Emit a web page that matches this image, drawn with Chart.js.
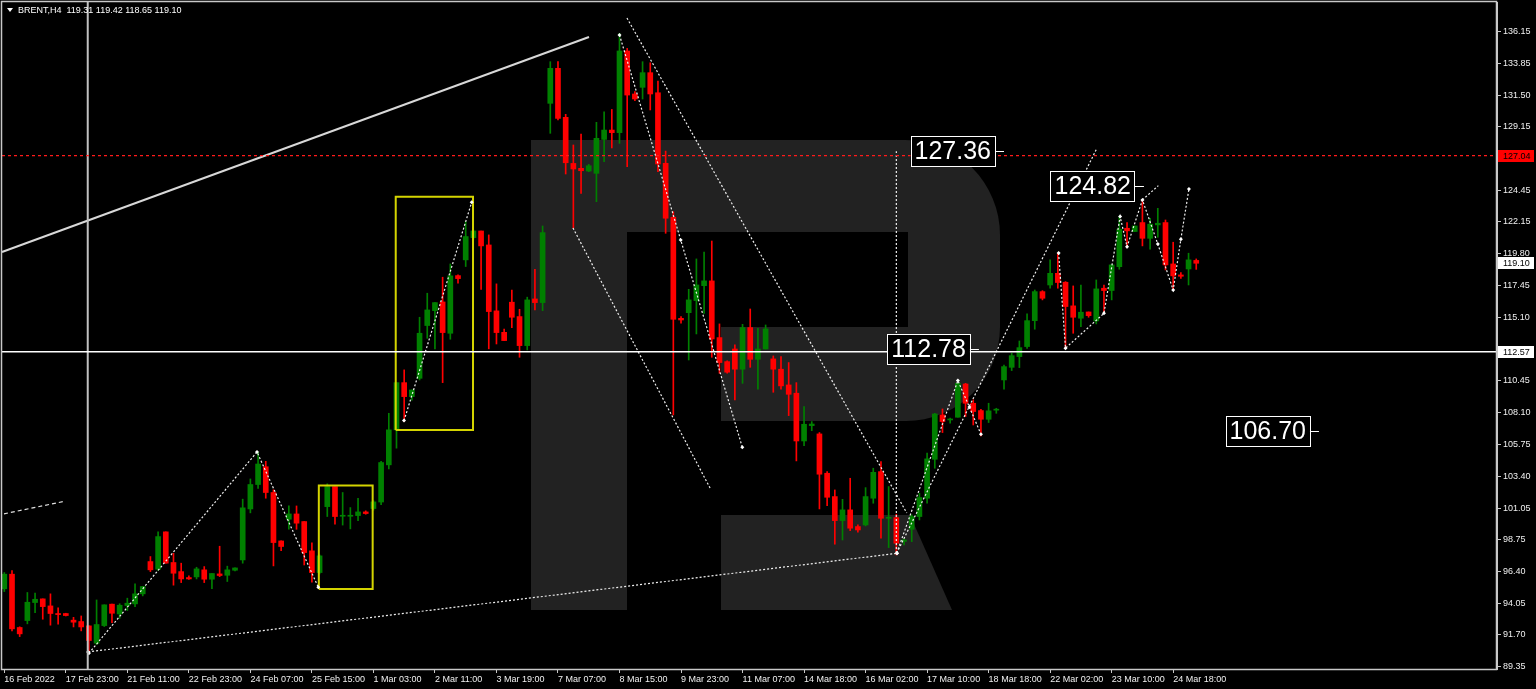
<!DOCTYPE html>
<html><head><meta charset="utf-8">
<script src="https://cdn.jsdelivr.net/npm/chart.js@4.4.1/dist/chart.umd.min.js"></script>
<style>html,body{margin:0;padding:0;background:#000;overflow:hidden}#wrap{width:1536px;height:689px;position:relative}canvas{display:block}</style>
</head><body><div id="wrap"><canvas id="c" width="1536" height="689"></canvas></div>
<script>
// ---- data ----
const timeLabels = ["16 Feb 2022","17 Feb 23:00","21 Feb 11:00","22 Feb 23:00","24 Feb 07:00","25 Feb 15:00","1 Mar 03:00","2 Mar 11:00","3 Mar 19:00","7 Mar 07:00","8 Mar 15:00","9 Mar 23:00","11 Mar 07:00","14 Mar 18:00","16 Mar 02:00","17 Mar 10:00","18 Mar 18:00","22 Mar 02:00","23 Mar 10:00","24 Mar 18:00"];
const barsPerLabel = 8;
const yTickLabels = ["136.15","133.85","131.50","129.15","126.80","124.45","122.15","119.80","117.45","115.10","110.45","108.10","105.75","103.40","101.05","98.75","96.40","94.05","91.70","89.35"];

const open = [95.10,96.18,92.25,92.76,94.09,94.36,93.84,93.28,93.28,92.79,92.69,92.37,91.09,92.39,93.97,93.25,93.87,93.99,94.73,97.11,
96.55,99.30,97.04,96.37,95.93,95.98,96.50,95.81,96.20,96.10,96.47,97.23,100.99,102.79,104.10,102.20,98.63,100.23,100.62,100.06,
97.90,96.30,101.16,102.64,100.45,100.45,100.50,100.77,101.02,101.50,104.24,106.82,110.30,109.27,110.62,114.51,115.61,116.25,113.94,118.19,
119.35,120.99,121.48,120.45,115.59,114.01,116.23,115.17,113.03,116.47,116.20,130.89,133.47,129.86,126.46,126.10,125.90,125.73,128.23,128.92,
128.73,134.75,131.58,132.07,133.15,131.67,126.47,122.49,115.04,115.46,116.35,117.45,117.80,113.62,111.85,112.78,111.29,114.36,112.02,112.78,
112.05,111.29,110.13,109.52,106.00,107.13,106.52,103.62,101.90,100.13,100.92,99.69,99.81,101.78,103.74,100.30,100.35,98.60,99.49,100.43,
101.78,104.65,107.92,107.55,107.75,110.20,108.78,108.24,107.60,108.27,110.50,111.43,112.22,112.96,114.87,117.01,117.50,118.36,117.70,115.96,
115.05,115.51,114.85,117.26,117.09,118.85,121.68,121.44,122.10,120.94,121.93,122.10,119.05,118.24,118.68,119.31];
const high = [96.30,96.45,92.30,94.83,94.78,94.36,94.73,93.70,93.30,93.00,93.10,92.37,94.28,93.92,93.97,94.00,94.41,95.46,95.27,97.48,
99.30,99.30,97.72,96.99,96.05,96.69,96.74,96.23,98.24,96.77,96.64,101.71,103.20,105.19,104.50,102.40,98.63,101.21,101.21,100.06,
98.50,97.60,102.84,102.64,102.20,101.09,101.78,100.85,101.60,104.50,108.04,110.30,111.24,109.76,115.12,116.89,116.20,118.07,119.05,118.24,
122.17,121.55,121.48,121.19,117.58,114.24,117.13,115.71,116.60,118.66,121.85,133.96,133.96,130.08,127.82,128.63,126.39,129.49,130.27,130.44,
136.05,134.94,131.75,133.96,133.88,132.53,127.37,122.90,115.17,117.18,119.42,119.93,120.74,114.63,111.90,113.08,114.60,115.73,114.31,114.55,
112.27,112.22,111.78,110.30,108.53,107.43,106.62,103.74,102.39,101.70,103.25,99.81,102.56,103.99,104.48,102.64,100.60,98.78,100.55,102.15,
105.10,108.04,108.36,107.68,110.33,110.25,109.03,108.34,108.78,108.41,111.60,112.47,113.37,115.37,117.13,117.08,119.35,119.84,117.75,117.43,
117.50,115.51,117.87,117.50,119.03,122.54,122.10,121.85,123.77,122.42,123.15,122.29,120.65,118.41,119.84,119.42];
const low = [94.90,92.00,91.58,92.52,93.35,92.86,92.42,92.49,93.10,92.29,92.00,90.35,90.99,92.32,92.60,92.93,93.50,93.79,94.58,96.37,
96.45,96.99,95.37,95.56,95.80,95.83,95.56,95.12,96.00,95.64,96.42,96.99,100.70,102.50,101.78,96.79,97.92,99.49,99.49,96.86,
95.60,96.20,100.43,99.86,99.80,99.52,100.13,100.60,100.90,101.30,103.94,105.47,107.43,109.00,110.50,113.57,112.79,110.30,113.50,117.63,
118.86,120.90,117.18,112.79,113.15,113.40,114.36,112.17,112.71,115.66,115.61,128.68,129.66,125.68,121.68,124.25,125.85,123.64,126.59,127.60,
127.94,126.22,131.08,131.21,130.40,125.85,121.31,107.92,114.68,111.97,113.89,115.41,112.17,110.99,110.99,109.02,110.25,111.43,109.81,112.78,
109.59,109.81,107.87,104.53,105.66,106.76,100.99,101.23,98.39,98.70,99.39,99.27,99.74,101.41,98.83,98.14,97.60,98.34,98.58,100.18,
101.41,103.99,106.62,107.31,107.75,107.80,107.18,106.37,107.36,108.04,109.81,111.19,111.41,112.83,114.24,116.40,117.26,117.26,112.83,113.94,
114.43,115.12,114.63,115.42,116.40,118.66,120.33,121.44,120.38,120.13,121.02,118.61,117.14,117.99,117.50,118.65];
const close = [96.18,92.15,91.78,94.11,94.33,93.79,93.28,93.20,93.13,92.64,92.29,91.29,92.47,93.92,93.30,93.89,94.04,94.73,95.27,96.50,
98.95,96.99,96.25,95.83,95.83,96.57,95.81,96.23,96.08,96.50,96.64,101.07,102.79,104.30,102.20,98.51,98.22,100.62,99.94,97.77,
96.30,97.53,102.64,100.43,100.52,100.50,100.77,100.65,101.51,104.41,106.82,110.30,109.27,109.76,113.94,115.66,116.20,113.99,118.17,117.97,
121.07,121.48,120.38,115.54,113.99,113.40,115.12,113.03,116.40,116.20,121.36,133.47,129.78,126.51,126.05,125.92,126.29,128.31,128.92,128.73,
134.75,131.50,131.21,133.15,131.58,126.42,122.42,114.97,114.92,116.40,117.50,117.80,113.52,111.78,111.07,111.29,114.36,112.02,112.78,114.26,
111.29,110.06,109.44,106.00,107.23,107.25,103.55,101.85,100.13,100.92,99.57,99.44,101.90,103.69,100.30,100.36,98.46,98.70,100.43,101.83,
104.68,107.99,107.43,107.60,110.25,108.78,108.17,107.60,108.22,108.34,111.48,112.29,112.88,114.87,117.01,116.52,118.36,117.68,115.91,115.12,
115.49,115.24,117.21,117.09,118.98,121.61,121.49,121.85,120.94,121.98,122.05,118.98,118.17,118.14,119.35,119.10];

// price levels and analysis objects (bar index, price)
const bidPrice = 119.10;
const hLinePrice = 112.57;
const redLinePrice = 127.04;
const vLineBar = 10.85;
const trendSolid = [[-0.3,119.93],[76.03,135.78]];
const dashTopLeft = [[-0.04,100.63],[7.9,101.56]];
const zigzagLeft = [[11,90.35],[32.86,105.19],[40.83,95.22]];
const zigzagRect = [[51.98,107.50],[60.78,123.60]];
const supportLine = [[10.9,90.45],[116.1,97.72]];
const declineA = [[80.0,135.93],[87.96,120.82],[95.97,105.54]];
const declineB = [[80.97,137.18],[117.36,100.69]];
const declineC = [[73.95,121.70],[91.86,102.44]];
const targetVertical = [[116.0,97.75],[116.0,127.36]];
const riseLong = [[116.05,97.73],[142.1,127.6]];
const riseShort = [[116.05,97.73],[124.0,110.45],[125.5,108.5],[127.0,106.5]];
const zigzagRight = [[137.1,119.86],[138.0,112.84],[143.0,115.41],[145.1,122.54],[146.0,120.32],[148.0,123.77],[150.0,120.52],[152.0,117.13],[153.0,120.87],[154.05,124.58]];
const zigzagBranch = [[148.0,123.77],[150.07,124.82]];
const rect1 = [[40.9,95.09],[47.9,102.71]];
const rect2 = [[50.9,106.81],[60.95,124.01]];
const bigLabels = [["127.36",128.83,127.36],["124.82",147.03,124.82],["112.78",125.57,112.78],["106.70",169.79,106.70]];
const headerText = "BRENT,H4  119.31 119.42 118.65 119.10";

// ---- build ----
const GREEN = '#008000', RED = '#ff0000';
const isUp = open.map((o,i)=> close[i] >= o);
const candleColors = isUp.map(u => u ? GREEN : RED);
const wickData = open.map((o,i)=>({x:i, y:[low[i], high[i]]}));
const bodyData = open.map((o,i)=>({x:i, y:[Math.min(o,close[i]), Math.max(o,close[i])]}));
const X_MIN = -0.3, X_MAX = 194.11, Y_MIN = 89.19, Y_MAX = 138.36;

function pts(a){ return a.map(p=>({x:p[0], y:p[1]})); }
function rectPts(r){ const [[x0,y0],[x1,y1]] = r; return [{x:x0,y:y0},{x:x1,y:y0},{x:x1,y:y1},{x:x0,y:y1},{x:x0,y:y0}]; }
function lineDs(data, color, width, dash, marks){
  return {type:'line', data, borderColor:color, borderWidth:width, borderDash:dash||[], pointRadius:marks?2:0,
          pointStyle:'rectRot', pointBackgroundColor:'#ffffff', pointBorderWidth:0,
          fill:false, tension:0, order:0, showLine:true, spanGaps:true, clip:false};
}
const DOT = [2,2];
const DOTC = '#f0f0f0';
const datasets = [
  lineDs(pts([[X_MIN,hLinePrice],[X_MAX,hLinePrice]]), '#ffffff', 1.5),
  lineDs(pts([[X_MIN,redLinePrice],[X_MAX,redLinePrice]]), '#ff1a1a', 1.2, [3,3]),
  lineDs(pts([[vLineBar,Y_MIN],[vLineBar,Y_MAX]]), '#c0c0c0', 2),
  lineDs(pts(trendSolid), '#d8d8d8', 2),
  lineDs(pts(dashTopLeft), '#e0e0e0', 1.2, [4,3]),
  lineDs(pts(zigzagLeft), DOTC, 1.2, DOT, true),
  lineDs(pts(zigzagRect), DOTC, 1.2, DOT, true),
  lineDs(pts(supportLine), DOTC, 1.2, DOT, true),
  lineDs(pts(declineA), DOTC, 1.2, DOT, true),
  lineDs(pts(declineB), DOTC, 1.2, DOT),
  lineDs(pts(declineC), DOTC, 1.2, DOT),
  lineDs(pts(targetVertical), DOTC, 1.2, DOT),
  lineDs(pts(riseLong), DOTC, 1.2, DOT),
  lineDs(pts(riseShort), DOTC, 1.2, DOT, true),
  lineDs(pts(zigzagRight), DOTC, 1.2, DOT, true),
  lineDs(pts(zigzagBranch), DOTC, 1.2, DOT),
  lineDs(rectPts(rect1), '#d4d400', 2),
  lineDs(rectPts(rect2), '#d4d400', 2),
  {type:'bar', data:bodyData, backgroundColor:candleColors, barThickness:5, minBarLength:1, grouped:false, order:1, borderWidth:0},
  {type:'bar', data:wickData, backgroundColor:candleColors, barThickness:1, minBarLength:1, grouped:false, order:2, borderWidth:0}
];

const FONT = 'Liberation Sans';
const frameColor = '#c8c8c8';

const plugin = {
  id:'mt4',
  beforeDraw(chart){
    const c = chart.ctx; c.save(); c.fillStyle='#000'; c.fillRect(0,0,chart.width,chart.height); c.restore();
  },
  beforeDatasetsDraw(chart){
    // decorative watermark logo (background only)
    const c = chart.ctx, a = chart.chartArea; c.save();
    c.beginPath(); c.rect(a.left,a.top,a.right-a.left,a.bottom-a.top); c.clip();
    c.fillStyle = '#222222';
    c.fillRect(531,140,96,470);
    c.beginPath();
    c.moveTo(531,140); c.lineTo(905,140); c.arcTo(1000,140,1000,235,95); c.lineTo(1000,327); c.arcTo(1000,421,905,421,94); c.lineTo(531,421); c.closePath(); c.fill();
    c.fillStyle = '#000';
    c.fillRect(627,232,281,95);
    c.fillRect(627,327,94,94);
    c.fillStyle = '#222222';
    c.beginPath(); c.moveTo(721,515); c.lineTo(910,515); c.lineTo(952,610); c.lineTo(721,610); c.closePath(); c.fill();
    c.restore();
  },
  afterDatasetsDraw(chart){
    const c = chart.ctx, xs = chart.scales.x, ys = chart.scales.y, a = chart.chartArea;
    c.save();
    // frame
    c.strokeStyle = frameColor; c.lineWidth = 1.5;
    c.strokeRect(a.left-0.5, a.top-0.5, a.right-a.left, a.bottom-a.top+1);
    // big labels
    c.font = '25px "'+FONT+'"'; c.textBaseline='middle'; c.textAlign='left';
    bigLabels.forEach(([t,b,p])=>{
      const right = xs.getPixelForValue(b), y = Math.round(ys.getPixelForValue(p));
      const w = c.measureText(t).width + 8, h = 30;
      c.fillStyle = '#000'; c.fillRect(right-w, y-h/2, w, h);
      c.strokeStyle = '#ffffff'; c.lineWidth = 1; c.strokeRect(Math.round(right-w)+0.5, y-h/2+0.5, Math.round(w), h);
      c.beginPath(); c.moveTo(right, y+0.5); c.lineTo(right+9, y+0.5); c.stroke();
      c.fillStyle = '#ffffff'; c.fillText(t, right-w+4, y+1);
    });
    // axis price boxes
    c.font = '9px "'+FONT+'"';
    const box = (price, bg, fg) => {
      const y = Math.round(ys.getPixelForValue(price));
      c.fillStyle = bg; c.fillRect(a.right+1, y-6, 36, 12);
      c.fillStyle = fg; c.textBaseline='middle'; c.fillText(price.toFixed(2), a.right+6, y+0.5);
    };
    box(redLinePrice, '#ff0000', '#000000');
    box(bidPrice, '#ffffff', '#000000');
    box(hLinePrice, '#ffffff', '#000000');
    // header
    c.fillStyle = '#ffffff';
    c.beginPath(); c.moveTo(7,8); c.lineTo(13,8); c.lineTo(10,12); c.closePath(); c.fill();
    c.font = '9px "'+FONT+'"'; c.textBaseline='middle'; c.fillText(headerText, 18, 10.5);
    c.restore();
  }
};

new Chart(document.getElementById('c'), {
  type:'bar',
  data:{ datasets },
  options:{
    responsive:false, animation:false, devicePixelRatio:1,
    layout:{autoPadding:false, padding:{left:2, top:2, right:0, bottom:0}},
    plugins:{legend:{display:false}, tooltip:{enabled:false}},
    scales:{
      x:{ type:'linear', min:X_MIN, max:X_MAX, offset:false,
          grid:{display:true, drawOnChartArea:false, drawTicks:true, tickLength:4, color:frameColor, offset:false},
          border:{display:true, color:frameColor},
          afterBuildTicks(s){ s.ticks = timeLabels.map((t,i)=>({value:i*barsPerLabel})); },
          afterFit(s){ s.height = 20; s.paddingLeft = 0; s.paddingRight = 0; },
          ticks:{ autoSkip:false, maxRotation:0, minRotation:0, align:'start', padding:1, color:'#f0f0f0',
                  font:{family:FONT, size:9}, callback:(v,i)=> timeLabels[i] } },
      y:{ type:'linear', position:'right', min:Y_MIN, max:Y_MAX,
          grid:{display:true, drawOnChartArea:false, drawTicks:true, tickLength:4, color:frameColor},
          border:{display:true, color:frameColor},
          afterBuildTicks(s){ s.ticks = yTickLabels.map(v=>({value:parseFloat(v)})); },
          afterFit(s){ s.width = 39; s.paddingTop = 0; s.paddingBottom = 0; },
          ticks:{ autoSkip:false, padding:2, color:'#f0f0f0', font:{family:FONT, size:9}, callback:(v,i)=> yTickLabels[i] } }
    }
  },
  plugins:[plugin]
});
</script></body></html>
